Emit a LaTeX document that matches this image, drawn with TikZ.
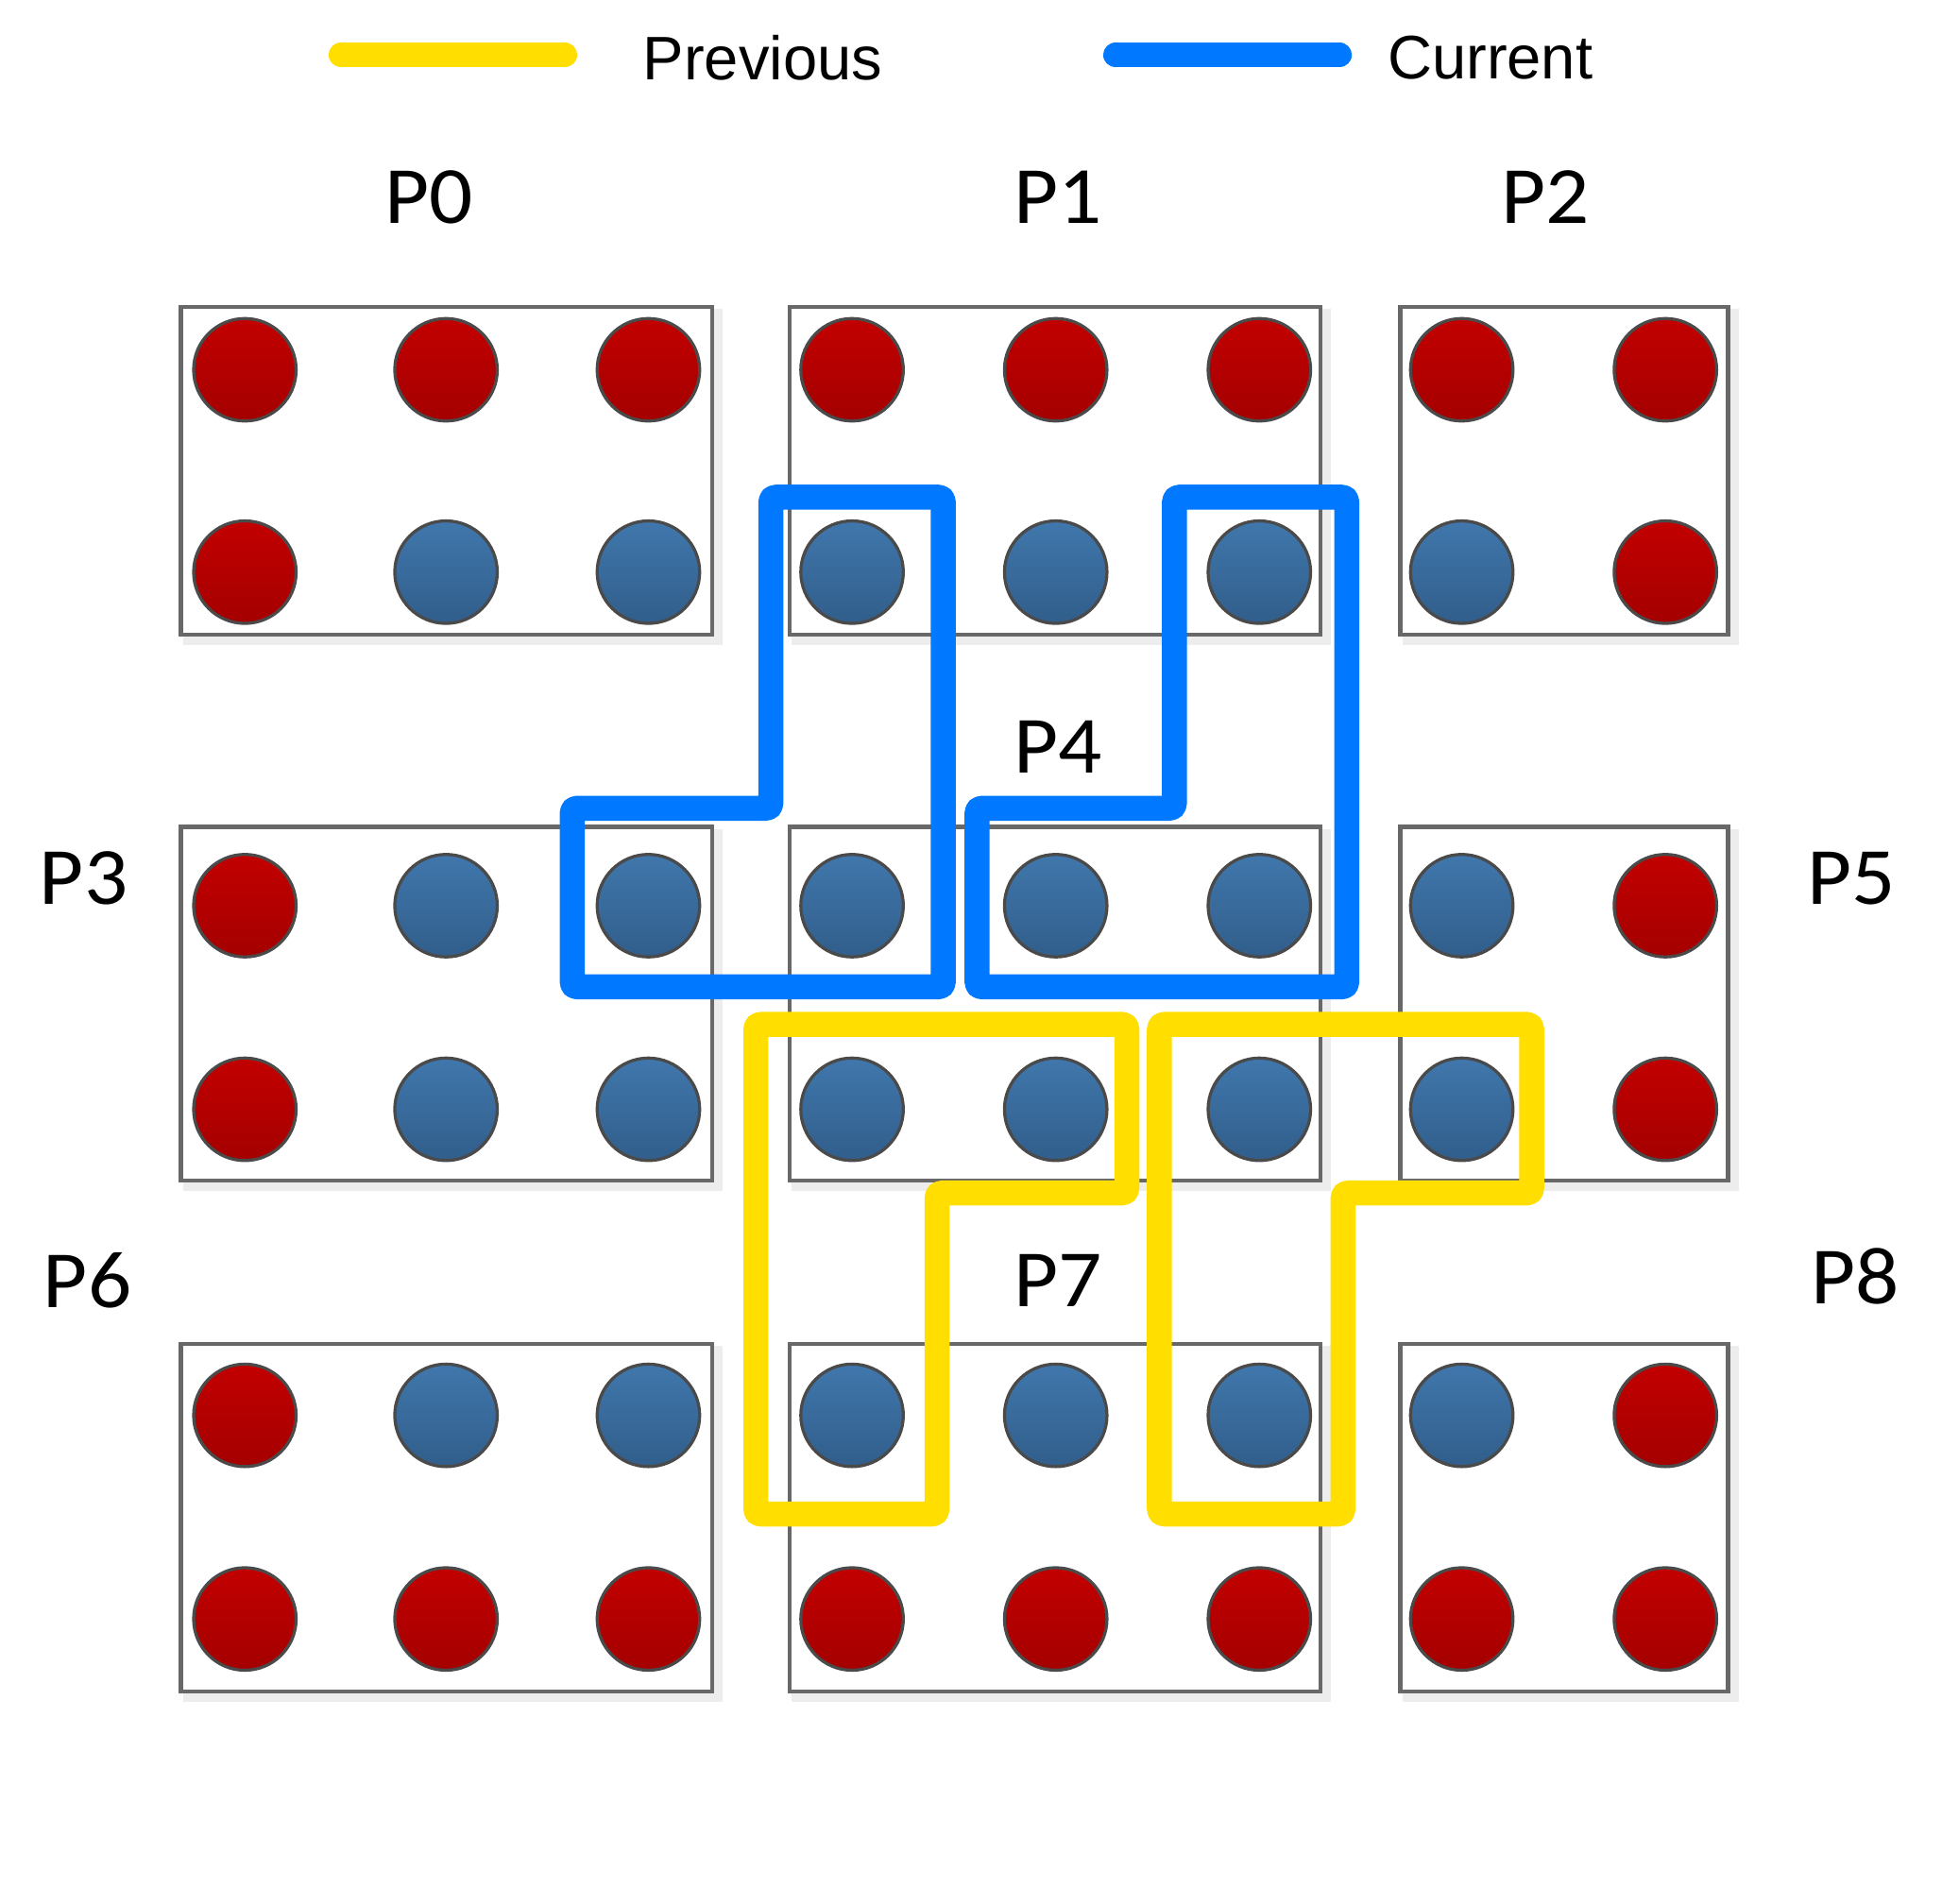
\documentclass[tikz,border=0pt]{standalone}
\usepackage{fontspec}
\setmainfont{Liberation Sans}
\newfontfamily\labfont{Carlito}
\definecolor{prevY}{HTML}{FFDE00}
\definecolor{curB}{HTML}{0078FF}
\definecolor{redT}{HTML}{C20000}
\definecolor{redB}{HTML}{A40000}
\definecolor{bluT}{HTML}{4077AC}
\definecolor{bluB}{HTML}{315E8B}
\definecolor{boxG}{HTML}{686868}
\definecolor{dotO}{HTML}{4A4A4A}
\begin{document}
\begin{tikzpicture}[x=0.01cm,y=-0.01cm,
  box/.style={draw=boxG, line width=0.95pt, inner sep=0pt, fill=white},
  wbox/.style={box, minimum width=4.25cm},
  nbox/.style={box, minimum width=2.62cm},
  shadowbox/.style={draw=black!7, line width=2pt},
  rdot/.style={circle, draw=dotO, line width=0.7pt, minimum size=0.82cm, inner sep=0pt, top color=redT, bottom color=redB},
  bdot/.style={circle, draw=dotO, line width=0.7pt, minimum size=0.82cm, inner sep=0pt, top color=bluT, bottom color=bluB},
  lab/.style={font=\labfont\fontsize{18.5}{18.5}\selectfont, inner sep=0pt, xscale=1.06},
  legtext/.style={font=\fontsize{14}{14}\selectfont, inner sep=0pt, anchor=west},
  legline/.style={line width=0.2cm, line cap=round},
  region/.style={line width=0.2cm, line join=round, rounded corners=0.035cm}
]
\useasboundingbox (0,0) rectangle (1568,1524);

% legend
\coordinate (ly1) at (273,44); \coordinate (ly2) at (452,44);
\coordinate (lb1) at (893,44); \coordinate (lb2) at (1072,44);
\draw[legline, prevY] (ly1) -- (ly2);
\draw[legline, curB] (lb1) -- (lb2);
\node[legtext] (tprev) at (514,46) {Previous};
\node[legtext] (tcur) at (1110,46) {Current};

% box shadows
\foreach \a/\b/\c/\d in {145/246/570/508, 632/246/1057/508, 1121/246/1383/508,
                        145/662/570/945, 632/662/1057/945, 1121/662/1383/945,
                        145/1076/570/1354, 632/1076/1057/1354, 1121/1076/1383/1354}
  \draw[shadowbox] (\a+5,\b+5) rectangle (\c+5,\d+5);

% boxes
\node[wbox, minimum height=2.62cm] (b0) at (357.5,377) {};
\node[wbox, minimum height=2.62cm] (b1) at (844.5,377) {};
\node[nbox, minimum height=2.62cm] (b2) at (1252,377) {};
\node[wbox, minimum height=2.83cm] (b3) at (357.5,803.5) {};
\node[wbox, minimum height=2.83cm] (b4) at (844.5,803.5) {};
\node[nbox, minimum height=2.83cm] (b5) at (1252,803.5) {};
\node[wbox, minimum height=2.78cm] (b6) at (357.5,1215) {};
\node[wbox, minimum height=2.78cm] (b7) at (844.5,1215) {};
\node[nbox, minimum height=2.78cm] (b8) at (1252,1215) {};

% labels
\node[lab] (l0) at (343,158) {P0};
\node[lab] (l1) at (847,158) {P1};
\node[lab] (l2) at (1237,158) {P2};
\node[lab] (l3) at (67,703) {P3};
\node[lab] (l4) at (847,598) {P4};
\node[lab] (l5) at (1482,703) {P5};
\node[lab] (l6) at (70,1025) {P6};
\node[lab] (l7) at (847,1025) {P7};
\node[lab] (l8) at (1485,1022) {P8};

% dots
\foreach \x/\y/\t [count=\i] in {
  196/296/rdot, 357/296/rdot, 519/296/rdot, 196/458/rdot, 357/458/bdot, 519/458/bdot,
  682/296/rdot, 845/296/rdot, 1008/296/rdot, 682/458/bdot, 845/458/bdot, 1008/458/bdot,
  1170/296/rdot, 1333/296/rdot, 1170/458/bdot, 1333/458/rdot,
  196/725/rdot, 357/725/bdot, 519/725/bdot, 196/888/rdot, 357/888/bdot, 519/888/bdot,
  682/725/bdot, 845/725/bdot, 1008/725/bdot, 682/888/bdot, 845/888/bdot, 1008/888/bdot,
  1170/725/bdot, 1333/725/rdot, 1170/888/bdot, 1333/888/rdot,
  196/1133/rdot, 357/1133/bdot, 519/1133/bdot, 196/1296/rdot, 357/1296/rdot, 519/1296/rdot,
  682/1133/bdot, 845/1133/bdot, 1008/1133/bdot, 682/1296/rdot, 845/1296/rdot, 1008/1296/rdot,
  1170/1133/bdot, 1333/1133/rdot, 1170/1296/rdot, 1333/1296/rdot}
  \node[\t] (c\i) at (\x,\y) {};

% previous regions (yellow)
\draw[region, prevY] (605,820) -- (902,820) -- (902,955) -- (750,955) -- (750,1212) -- (605,1212) -- cycle;
\draw[region, prevY] (928,820) -- (1226,820) -- (1226,955) -- (1075,955) -- (1075,1212) -- (928,1212) -- cycle;

% current regions (blue)
\draw[region, curB] (617,398) -- (755,398) -- (755,790) -- (458,790) -- (458,647) -- (617,647) -- cycle;
\draw[region, curB] (940,398) -- (1078,398) -- (1078,790) -- (782,790) -- (782,647) -- (940,647) -- cycle;
\end{tikzpicture}
\end{document}
